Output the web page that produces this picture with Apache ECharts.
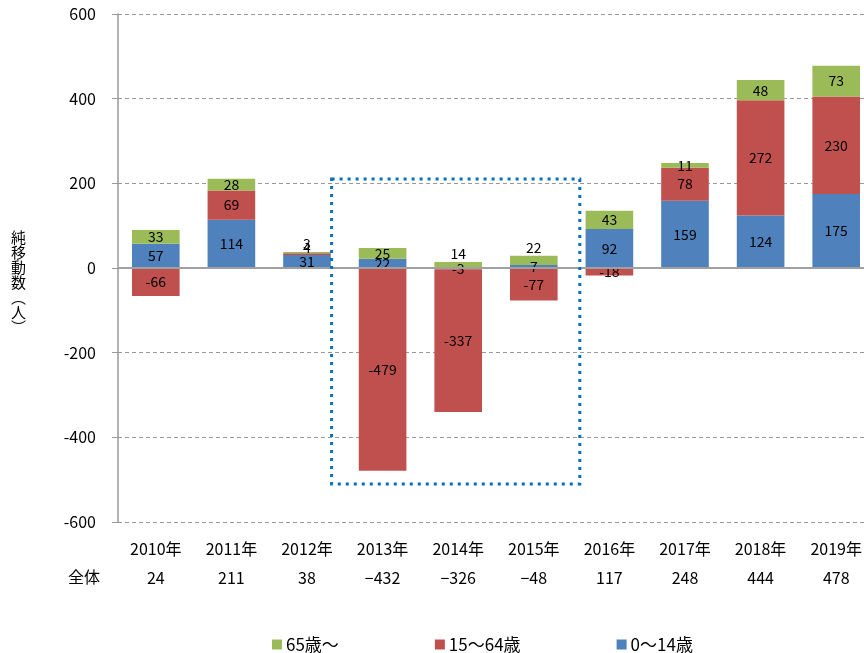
<!DOCTYPE html>
<html>
<head>
<meta charset="utf-8">
<script src="https://cdn.jsdelivr.net/npm/echarts@6/dist/echarts.min.js"></script>
<style>
  html, body { margin: 0; padding: 0; background: #fff; }
  #chart { width: 864px; height: 653px; }
</style>
</head>
<body>
<div id="chart"></div>
<script>
// 年次
const years = ['2010年', '2011年', '2012年', '2013年', '2014年', '2015年', '2016年', '2017年', '2018年', '2019年']
// 年齢区分別の純移動数
const kids = [57, 114, 31, 22, -3, 7, 92, 159, 124, 175]        // 0〜14歳
const workers = [-66, 69, 4, -479, -337, -77, -18, 78, 272, 230] // 15〜64歳
const olds = [33, 28, 3, 25, 14, 22, 43, 11, 48, 73]            // 65歳〜
// 全体
const totals = [24, 211, 38, -432, -326, -48, 117, 248, 444, 478]
const yTicks = [-600, -400, -200, 0, 200, 400, 600]

const FONT = '"Noto Sans CJK JP", "Noto Sans", sans-serif'
const chart = echarts.init(document.getElementById('chart'))

const barLabel = {
  show: true,
  position: 'inside',
  color: '#000',
  fontSize: 14,
  fontFamily: FONT
}

const makeSeries = (name, values, color, extra) => ({
  name,
  type: 'bar',
  stack: 'total',
  barWidth: '63%',
  itemStyle: { color },
  label: barLabel,
  data: values,
  ...extra
})

const option = {
  animation: false,
  textStyle: { fontFamily: FONT },
  grid: { left: 118, top: 14, width: 756, bottom: 131, outerBoundsMode: 'none', containLabel: false },
  legend: {
    data: ['65歳〜', '15〜64歳', '0〜14歳'],
    left: 267,
    top: 631,
    itemWidth: 10,
    itemHeight: 10,
    itemGap: 96,
    icon: 'rect',
    textStyle: { fontSize: 17, color: '#000', fontFamily: FONT, padding: [0, 0, 0, -1] }
  },
  xAxis: {
    type: 'category',
    data: years,
    axisLine: { show: false, onZero: false },
    axisTick: { show: false },
    axisLabel: {
      margin: 12,
      interval: 0,
      formatter: (v, i) => '{y|' + v + '}\n{t|' + String(totals[i]).replace('-', '−') + '}',
      rich: {
        y: { fontSize: 16, color: '#000', lineHeight: 29, fontFamily: FONT },
        t: { fontSize: 16, color: '#000', lineHeight: 29, fontFamily: FONT }
      }
    }
  },
  yAxis: {
    type: 'value',
    min: yTicks[0],
    max: yTicks[yTicks.length - 1],
    interval: 200,
    axisLine: { show: true, lineStyle: { color: '#999', width: 1.5 } },
    axisTick: { show: true, length: 6, lineStyle: { color: '#999' } },
    axisLabel: { fontSize: 16, color: '#000', margin: 22, fontFamily: FONT },
    splitLine: { lineStyle: { color: '#999', type: [4, 3] } }
  },
  series: [
    makeSeries('0〜14歳', kids, '#4f81bd'),
    makeSeries('15〜64歳', workers.map((v, i) => i === 2 ? { value: v, label: { offset: [0, -6] } } : v), '#c0504d'),
    makeSeries('65歳〜', olds.map((v, i) => [2, 4, 5].includes(i) ? { value: v, label: { position: 'top', distance: 1 } } : v), '#9bbb59', {
      markLine: {
        silent: true,
        symbol: 'none',
        label: { show: false },
        lineStyle: { color: '#a0a0a0', width: 2, type: 'solid' },
        data: [{ yAxis: 0 }]
      }
    })
  ],
  graphic: [
    {
      type: 'text',
      left: 68,
      top: 569,
      style: { text: '全体', fontSize: 16, fill: '#000', fontFamily: FONT }
    },
    {
      // 縦書きの軸タイトル
      type: 'text',
      left: 11,
      top: 230,
      style: { text: '純\n移\n動\n数\n︵\n人\n︶', fontSize: 15, lineHeight: 15, fill: '#000', fontFamily: FONT }
    }
  ]
}

chart.setOption(option)

// 点線の囲み（2013年〜2015年）
const boxFrom = '2013年', boxTo = '2015年', boxTop = 210, boxBottom = -510
const x1 = chart.convertToPixel({ xAxisIndex: 0 }, boxFrom)
const x2 = chart.convertToPixel({ xAxisIndex: 0 }, boxTo)
const y1 = chart.convertToPixel({ yAxisIndex: 0 }, boxTop)
const y2 = chart.convertToPixel({ yAxisIndex: 0 }, boxBottom)
chart.setOption({
  graphic: [
    option.graphic[0],
    option.graphic[1],
    {
      type: 'rect',
      z: 100,
      shape: { x: x1 - 51, y: y1, width: (x2 + 46) - (x1 - 51), height: y2 - y1 },
      style: { fill: 'none', stroke: '#0070c0', lineWidth: 3, lineDash: [3, 5] }
    }
  ]
})
</script>
</body>
</html>
